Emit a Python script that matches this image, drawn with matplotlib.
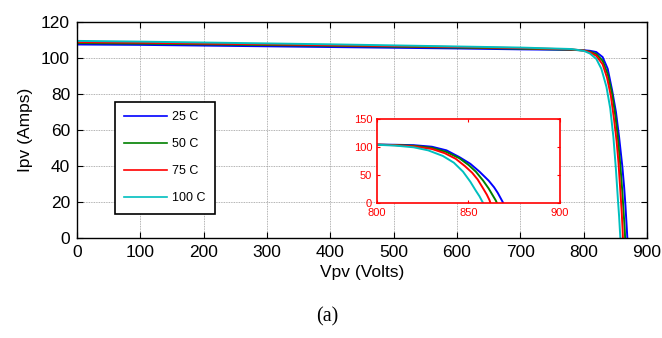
import matplotlib
matplotlib.use("Agg")
import matplotlib.pyplot as plt

plt.rcParams['font.family'] = ['Liberation Sans', 'DejaVu Sans']

# PV I-V curves (Vpv in volts, Ipv in amps)
labels = ["25 C", "50 C", "75 C", "100 C"]
colors = ["#0000ff", "#008000", "#ff0000", "#00bfbf"]

v25 = [0, 100, 200, 300, 400, 500, 600, 700, 780, 800, 810, 820, 830, 838, 845, 851, 856, 861, 864, 866, 868, 869]
i25 = [107.5, 107.3, 106.9, 106.5, 106.1, 105.7, 105.3, 104.8, 104.5, 104.3, 104.0, 103.3, 100.5, 94.0, 82.0, 70.0, 56.0, 40.0, 28.0, 18.0, 6.0, 0.0]

v50 = [0, 100, 200, 300, 400, 500, 600, 700, 780, 800, 810, 820, 830, 838, 845, 850, 854, 858, 861, 863, 865, 865.5]
i50 = [108.3, 108.0, 107.6, 107.2, 106.8, 106.3, 105.8, 105.2, 104.6, 104.2, 103.5, 102.2, 98.5, 91.0, 80.0, 68.0, 56.0, 40.0, 26.0, 15.0, 4.0, 0.0]

v75 = [0, 100, 200, 300, 400, 500, 600, 700, 780, 800, 810, 820, 830, 837, 843, 848, 852, 855, 858, 860, 861.5, 862]
i75 = [108.8, 108.5, 108.0, 107.6, 107.1, 106.6, 106.1, 105.5, 104.8, 104.2, 103.2, 101.2, 96.5, 89.0, 79.0, 66.0, 54.0, 42.0, 26.0, 15.0, 5.0, 0.0]

v100 = [0, 100, 200, 300, 400, 500, 600, 700, 780, 800, 810, 820, 828, 836, 842, 847, 851, 854, 856, 857.3, 858]
i100 = [109.5, 109.1, 108.6, 108.1, 107.6, 107.0, 106.4, 105.8, 105.0, 104.0, 102.5, 99.5, 94.0, 84.0, 72.0, 56.0, 38.0, 22.0, 12.0, 4.0, 0.0]

curves = [(v25, i25), (v50, i50), (v75, i75), (v100, i100)]

fig = plt.figure(figsize=(6.62, 3.38), dpi=100)
ax = fig.add_axes([0.1163, 0.2959, 0.861, 0.639])

for (v, i), c, lab in zip(curves, colors, labels):
    ax.plot(v, i, color=c, lw=1.4, label=lab)

ax.set_xlim(0, 900)
ax.set_ylim(0, 120)
ax.set_xticks(range(0, 901, 100))
ax.set_yticks(range(0, 121, 20))
ax.grid(True, color="#999999", linestyle=(0, (1, 1)), linewidth=0.6)
ax.tick_params(direction="in", top=True, right=True, labelsize=12.5, length=4, pad=5)
for s in ax.spines.values():
    s.set_linewidth(1.0)
ax.set_xlabel("Vpv (Volts)", fontsize=12.5, labelpad=4)
ax.set_ylabel("Ipv (Amps)", fontsize=12.5, labelpad=6)

leg = ax.legend(loc="upper left", bbox_to_anchor=(0.0667, 0.63), borderaxespad=0,
                fontsize=9, labelspacing=1.2, handlelength=3.4, handletextpad=0.4,
                borderpad=0.75, fancybox=False, edgecolor="black", framealpha=1)
leg.get_frame().set_linewidth(1.2)
for ln in leg.get_lines():
    ln.set_linewidth(1.2)

# zoomed inset near open-circuit voltage
axi = fig.add_axes([0.5695, 0.3994, 0.2764, 0.2485])
for (v, i), c in zip(curves, colors):
    axi.plot(v, i, color=c, lw=1.4)
axi.set_xlim(800, 900)
axi.set_ylim(0, 150)
axi.set_xticks([800, 850, 900])
axi.set_yticks([0, 50, 100, 150])
axi.tick_params(direction="in", colors="red", labelsize=8, length=2, top=True, right=True)
for s in axi.spines.values():
    s.set_color("red")
    s.set_linewidth(1.2)

fig.text(0.495, 0.05, "(a)", fontsize=14.5, family=["Liberation Serif", "DejaVu Serif"], ha="center")

fig.savefig("out.png", dpi=100)
